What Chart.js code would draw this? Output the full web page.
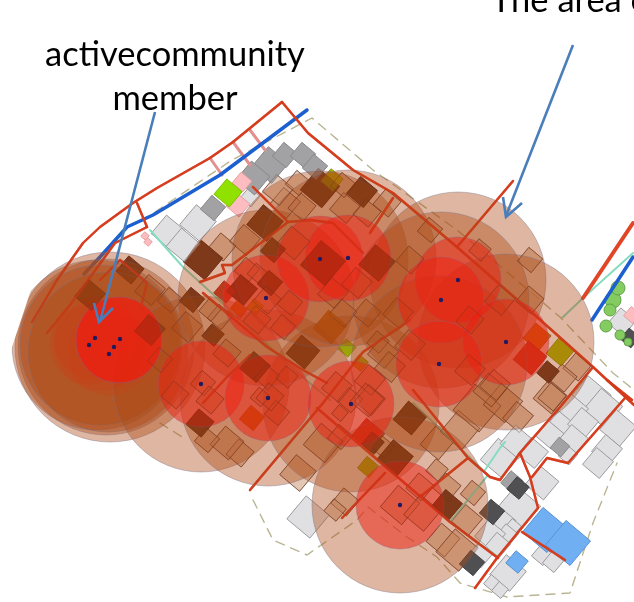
<!DOCTYPE html>
<html>
<head>
<meta charset="utf-8">
<style>
  html, body { margin: 0; padding: 0; background: #fff; overflow: hidden; }
  canvas { display: block; }
</style>
<script src="https://cdn.jsdelivr.net/npm/chart.js@4"></script>
</head>
<body>
<canvas id="map" width="634" height="602"></canvas>
<script>
// Members: x, y of the dot
const memberX = [95, 120, 89, 114, 109, 201, 268, 351, 400, 266, 320, 348, 458, 441, 506, 439]
const memberY = [338, 339, 345, 347, 354, 384, 398, 404, 505, 298, 259, 258, 280, 300, 342, 364]

// Wide reach circles: x, y, r
const outerCircles = [[110,347,95],[106,347,88],[97,345,85],[100,345,80],[108,352,80],[201,384,88],[268,398,88],[351,404,88],[400,505,88],[266,298,88],[320,259,88],[348,258,88],[458,280,88],[441,300,88],[506,342,88],[439,364,88]]
// Close reach circles: x, y, r
const innerCircles = [[201,384,43],[268,398,43],[351,404,43],[400,505,44],[266,298,43],[320,259,43],[348,258,43],[458,280,43],[441,300,43],[506,342,43],[439,364,43],[119,340,43],[119,340,43]]
// Faint glow round the cluster on the left: x, y, r
const glowCircles = [[95,338,42],[89,345,40],[109,354,42],[100,345,46]]

// Houses: [x, y, side]
const brownHouses = [[298,473,26],[345,502,20],[335,510,16],[323,443,28],[340,437,18],[383,447,16],[437,470,16],[447,487,20],[420,487,20],[400,505,28],[422,513,26],[443,540,24],[457,550,30],[467,520,22],[473,493,18],[460,430,28],[437,443,24],[477,408,34],[503,403,28],[518,417,22],[550,397,24],[490,390,24],[350,400,18],[370,400,22],[340,413,12],[240,453,20],[277,413,18],[260,397,14],[577,367,20],[563,378,20],[552,397,20],[222,247,20],[245,240,22],[285,203,22],[302,207,20],[278,190,22],[298,183,18],[345,208,22],[367,213,20],[343,185,18],[387,203,20],[293,243,24],[333,293,22],[357,283,22],[343,313,20],[290,303,18],[283,327,18],[267,300,20],[247,270,18],[257,273,14],[257,320,20],[378,342,16],[383,353,22],[367,313,20],[398,313,22],[390,367,22],[370,380,22],[337,387,22],[367,400,24],[220,317,18],[187,327,22],[227,353,20],[210,310,16],[267,377,18],[287,377,16],[270,397,20],[203,383,18],[210,400,20],[227,443,24],[207,440,18],[470,370,22],[495,385,22],[410,345,22],[470,320,20],[500,300,22],[530,300,20],[410,260,20],[430,230,18],[480,250,16],[530,260,18],[170,300,18],[150,290,22],[175,395,20],[160,360,18]]
const darkBrownHouses = [[265,223,26],[203,260,28],[320,188,28],[362,192,22],[213,335,16],[303,352,24],[255,367,22],[192,300,18],[323,263,32],[377,263,26],[242,290,22],[273,250,18],[270,283,18],[410,418,24],[395,458,26],[373,443,16],[447,505,22],[548,372,16],[200,423,20],[130,270,20],[90,295,22],[150,330,22]]
const lightHouses = [[308,517,30],[542,483,24],[500,458,28],[517,442,24],[533,453,22],[590,397,30],[603,408,28],[573,410,22],[560,425,20],[583,423,22],[550,435,20],[573,440,22],[568,455,14],[618,428,26],[607,450,22],[598,463,22],[518,508,32],[502,522,20],[513,527,12],[507,535,16],[490,535,22],[498,545,18],[480,555,18],[508,573,26],[492,583,12],[500,590,12],[542,555,15],[553,562,15],[168,232,24],[198,223,26],[183,245,24],[250,197,14],[622,322,20]]
const greyHouses = [[270,165,26],[253,178,24],[285,155,18],[303,155,18],[315,167,18],[213,208,18],[560,447,14],[512,482,16]]
const darkHouses = [[518,488,16],[492,512,18],[472,563,18],[630,338,14]]
const blueHouses = [[545,530,32],[568,543,32],[517,562,16]]
const pinkHouses = [[242,182,14],[238,205,17],[145,236,6],[148,242,6],[632,315,12]]
const greenHouses = [[228,193,20],[347,348,13]]
const oliveHouses = [[332,180,16],[560,352,20],[368,467,15],[360,363,12],[255,307,12]]
const orangeHouses = [[537,337,20],[252,418,18],[330,327,24],[238,310,14]]
const redHouses = [[530,358,24],[368,435,24],[225,292,16]]

// Bushes at the right edge: x, y, r
const bushes = [[613,300,8],[618,288,7],[610,310,6],[606,326,6],[620,335,5],[628,342,4]]

// Roads as lists of [x, y]
const mainRoads = [
  [[282,102],[233,142],[210,158],[157,188],[133,203],[100,227],[83,243],[57,280],[32,322]],
  [[282,102],[308,133],[353,170],[393,193],[457,247],[537,317],[593,367],[634,405]],
  [[137,203],[147,227]],
  [[513,181],[457,247]],
  [[393,198],[370,233]],
  [[593,367],[560,407],[520,453],[530,477],[538,508],[497,558],[475,588]],
  [[317,408],[450,522],[498,558]],
  [[413,390],[468,458],[490,477],[500,480],[520,453]],
  [[625,398],[568,463],[547,458],[532,477]],
  [[607,380],[632,400]],
  [[420,497],[468,458]],
  [[385,473],[342,518]],
  [[522,532],[565,560]],
  [[253,187],[288,222],[232,265],[222,265],[225,273],[200,282]],
  [[288,222],[310,220],[333,223],[363,253]],
  [[147,227],[115,243],[70,305],[47,333]],
  [[323,403],[250,490]],
  [[203,293],[267,347],[303,370],[327,383]],
  [[410,320],[363,352],[323,403]],
  [[203,403],[227,377],[250,355]],
  [[147,283],[120,260],[100,280]],
  [[147,283],[140,310]]
]
const wideRoads = [[[633,223],[583,298]]]
const pinkRoads = [[[210,158],[222,175]], [[233,142],[250,165]], [[250,130],[265,150]]]
const blueRoads = [
  [[307,110],[220,175],[153,215],[127,227],[100,257],[84,274]],
  [[633,257],[592,320]]
]
const cyanLines = [
  [[150,230],[183,267],[227,307],[300,375],[330,400]],
  [[413,403],[488,475],[450,522]],
  [[485,470],[500,448],[505,442]],
  [[250,490],[323,403]],
  [[450,522],[497,556]],
  [[562,318],[583,298],[633,253]]
]
const boundary = [
  [[253,500],[273,540],[307,555],[357,520],[368,507],[407,537],[437,557],[460,583],[507,597],[570,593],[593,523],[617,463]],
  [[155,212],[232,160],[312,118],[373,170],[457,230],[507,272],[560,317],[613,373],[634,390]],
  [[160,423],[187,440]]
]
// white wedge where the map image was cut off
const cutCorner = [[0,240],[39,240],[37,272],[5,368],[0,368]]

// Arrows
const arrowLines = [
  [[155,112],[100,322]],
  [[94,303],[99,322],[113,308]],
  [[573,45],[506,216]],
  [[503,197],[506,217],[522,203]]
]

// Annotations
const noteLines = [
  { text: "activecommunity", x: 175, y: 66 },
  { text: "member", x: 175, y: 110 },
  { text: "The area of", x: 491, y: 12, align: "left" }
]

const toPoints = (line) => line.map((p) => ({ x: p[0], y: p[1] }))

// layers go in painting order, bottom first
const layers = []

function addLines(lines, color, width, extra) {
  lines.forEach((line) => {
    layers.push({
      type: "line",
      data: toPoints(line),
      borderColor: color,
      borderWidth: width,
      pointRadius: 0,
      tension: 0,
      fill: false,
      borderCapStyle: "round",
      borderJoinStyle: "round",
      ...extra,
    })
  })
}

function addHouses(houses, fill, border) {
  layers.push({
    type: "scatter",
    data: toPoints(houses),
    pointStyle: "rect",
    pointRotation: 40,
    pointRadius: houses.map((h) => h[2] / Math.SQRT2),
    pointBackgroundColor: fill,
    pointBorderColor: border,
    pointBorderWidth: 1,
  })
}

function addCircles(circles, fill, border) {
  layers.push({
    type: "bubble",
    data: circles.map((c) => ({ x: c[0], y: c[1], r: c[2] })),
    backgroundColor: fill,
    borderColor: border,
    borderWidth: 1,
  })
}

addLines(boundary, "#b9b592", 1.4, { borderDash: [9, 7] })
addHouses(brownHouses, "rgba(215,175,145,0.7)", "rgba(110,75,60,0.7)")
addHouses(darkBrownHouses, "#6f3c26", "#5a3020")
addHouses(lightHouses, "#e0e0e2", "#9a9a9c")
addHouses(greyHouses, "#a2a2a4", "#88888a")
addHouses(darkHouses, "#505052", "#404042")
addHouses(blueHouses, "#70b0f2", "#5a90d0")
addHouses(pinkHouses, "#fdbcc0", "#e8a0a0")
addHouses(greenHouses, "#90e000", "#80c000")
addHouses(oliveHouses, "#a8b800", "#909000")
addHouses(orangeHouses, "#d07000", "#b06000")
addHouses(redHouses, "#c83020", "#a02818")
addCircles(bushes, "#84cc60", "#60a048")
addLines(cyanLines, "#86dcc0", 2)
addLines(pinkRoads, "#e39090", 3)
addLines(blueRoads, "#1c5fd0", 3.5)
addLines(mainRoads, "#df4526", 2.4)
addLines(wideRoads, "#df4526", 4)
addCircles(outerCircles, "rgba(172,72,20,0.4)", "rgba(120,110,130,0.4)")
addCircles(glowCircles, "rgba(220,40,10,0.12)", "rgba(0,0,0,0)")
addCircles(innerCircles, "rgba(240,30,15,0.5)", "rgba(150,90,120,0.35)")
// the map shows through the circles, so go over it once more
addHouses(brownHouses, "rgba(0,0,0,0)", "rgba(110,55,35,0.4)")
addHouses(darkBrownHouses, "rgba(100,40,15,0.28)", "rgba(100,40,15,0.28)")
addLines(mainRoads, "rgba(205,55,25,0.55)", 2.4)
layers.push({
  type: "bubble",
  data: memberX.map((x, i) => ({ x: x, y: memberY[i], r: 2.2 })),
  backgroundColor: "#221a60",
  borderWidth: 0,
})
addLines([cutCorner], "#ffffff", 0, { fill: "shape", backgroundColor: "#ffffff" })
addLines(arrowLines, "#4a7ebb", 2.6, { borderCapStyle: "butt", borderJoinStyle: "miter" })

// lowest order is painted last
layers.forEach((layer, i) => {
  layer.order = layers.length - i
})

const noteText = {
  id: "noteText",
  afterDraw(chart) {
    const c = chart.ctx
    c.save()
    c.fillStyle = "#000"
    c.font = "34.5px Lato"
    noteLines.forEach((note) => {
      c.textAlign = note.align || "center"
      c.fillText(note.text, note.x, note.y)
    })
    c.restore()
  },
}

new Chart(document.getElementById("map"), {
  type: "bubble",
  data: { datasets: layers },
  plugins: [noteText],
  options: {
    responsive: false,
    animation: false,
    layout: { padding: 0, autoPadding: false },
    clip: false,
    plugins: { legend: { display: false }, tooltip: { enabled: false } },
    scales: {
      x: { type: "linear", min: 0, max: 634, display: false },
      y: { type: "linear", min: 0, max: 602, reverse: true, display: false },
    },
  },
})
</script>
</body>
</html>
